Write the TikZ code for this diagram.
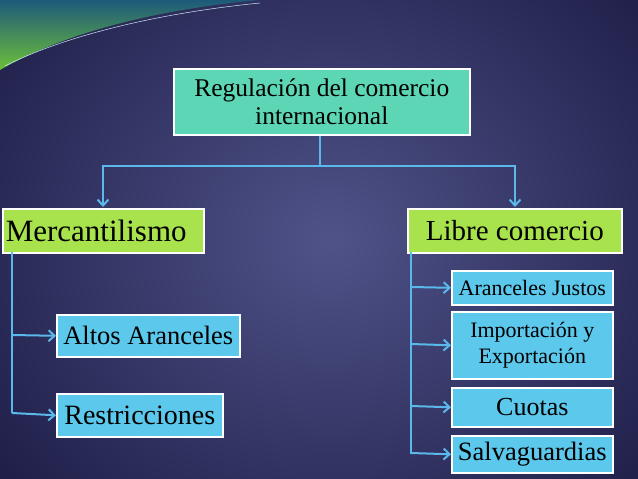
\documentclass[tikz,border=0pt]{standalone}
\usepackage{fontspec}
\setmainfont{Liberation Serif}
\usetikzlibrary{arrows.meta}
\definecolor{bgin}{HTML}{4F5388}
\definecolor{bgout}{HTML}{1C1B45}
\definecolor{topc}{HTML}{5CD6B4}
\definecolor{limec}{HTML}{A8E24C}
\definecolor{skyc}{HTML}{5CC8EC}
\definecolor{linec}{HTML}{5AB8EA}
\definecolor{greenc}{HTML}{6BBF3A}
\definecolor{tealc}{HTML}{1E5A7A}
\tikzset{
  box/.style={draw=white,line width=1.6pt,inner sep=0pt,anchor=north west,align=center,text=black},
  conn/.style={draw=linec,line width=2pt,-{Straight Barb[length=6pt,width=11pt]}},
  plain/.style={draw=linec,line width=2pt}
}
\begin{document}
\begin{tikzpicture}[x=1pt,y=-1pt]
\useasboundingbox (0,0) rectangle (638,479);
\shade[inner color=bgin,outer color=bgout] (-120,-160) rectangle (780,640);
\shade[top color=tealc,bottom color=greenc] (0,0) -- (260,0) .. controls (150,10) and (60,35) .. (0,70) -- cycle;
\draw[white!70!linec,line width=0.5pt] (5,66) .. controls (60,38) and (150,14) .. (260,3);
\node[box,fill=topc,minimum width=296pt,minimum height=66pt,font=\fontsize{25.5}{28}\selectfont] (top) at (173,68) {Regulación del comercio\\internacional};
\node[box,fill=limec,minimum width=201pt,minimum height=44pt,font=\fontsize{31}{32}\selectfont,align=left,text width=195pt] (mer) at (2,208) {Mercantilismo};
\node[box,fill=limec,minimum width=214pt,minimum height=44pt,font=\fontsize{29}{31}\selectfont] (lib) at (407,208) {Libre comercio};
\node[box,fill=skyc,minimum width=183pt,minimum height=42pt,font=\fontsize{26.5}{28}\selectfont] (alt) at (56,314) {Altos Aranceles};
\node[box,fill=skyc,minimum width=166pt,minimum height=43pt,font=\fontsize{28}{30}\selectfont] (res) at (56,393) {Restricciones};
\node[box,fill=skyc,minimum width=161pt,minimum height=34pt,font=\fontsize{22}{24}\selectfont] (aj) at (451,270) {Aranceles Justos};
\node[box,fill=skyc,minimum width=161pt,minimum height=67pt,font=\fontsize{22}{26}\selectfont] (ie) at (451,311) {Importación y\\Exportación};
\node[box,fill=skyc,minimum width=161pt,minimum height=39pt,font=\fontsize{26}{28}\selectfont] (cu) at (451,387) {Cuotas};
\node[box,fill=skyc,minimum width=161pt,minimum height=37pt,font=\fontsize{26.5}{28}\selectfont] (sa) at (451,435) {Salvaguardias};
\coordinate (hj) at (320,166);
\draw[plain] (top.south -| hj) -- (hj);
\draw[conn] (hj) -| (103,207);
\draw[conn] (hj) -| (515,207);
\coordinate (lv) at (12,252);
\draw[plain] (lv) -- (12,413);
\draw[conn] (12,335) -- (alt.west);
\draw[conn] (12,413) -- (res.west);
\coordinate (rv) at (411,252);
\draw[plain] (rv) -- (411,454);
\draw[conn] (411,287) -- (aj.west);
\draw[conn] (411,344) -- (ie.west);
\draw[conn] (411,406) -- (cu.west);
\draw[conn] (411,453) -- (sa.west);
\end{tikzpicture}
\end{document}
